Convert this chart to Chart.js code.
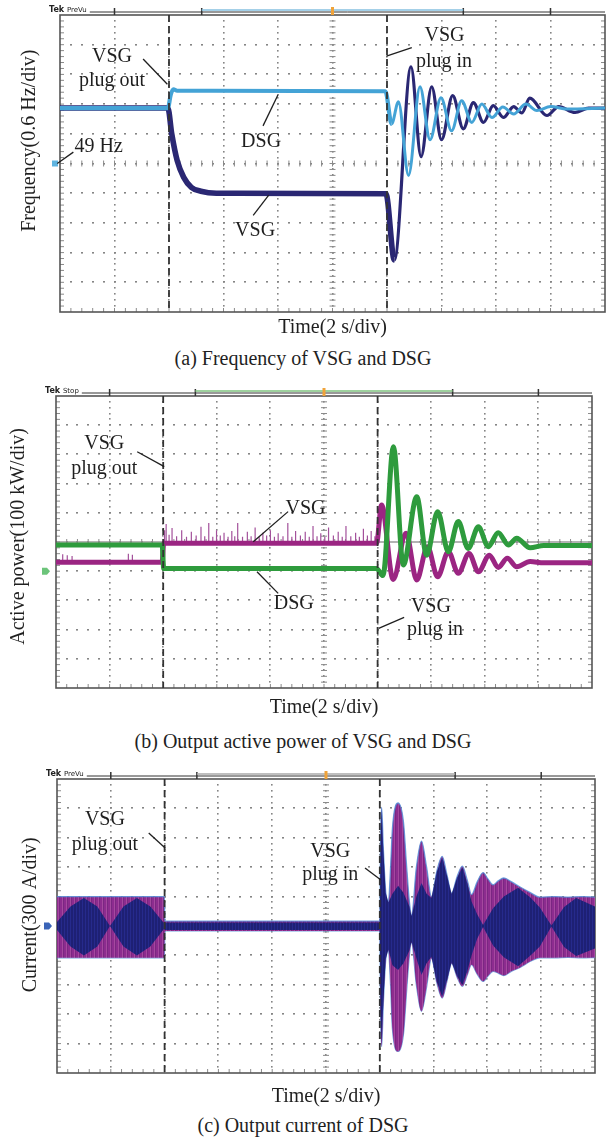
<!DOCTYPE html>
<html>
<head>
<meta charset="utf-8">
<script src="https://cdn.jsdelivr.net/npm/chart.js@4.4.0/dist/chart.umd.min.js"></script>
<style>
  html, body { margin: 0; padding: 0; background: #fff; }
  body { width: 606px; height: 1142px; position: relative; overflow: hidden;
         font-family: "Liberation Serif", "Times New Roman", serif; color: #1f1f1f; }
  .panel { position: absolute; left: 0; width: 606px; }
  .caption { position: absolute; left: 0; width: 606px; text-align: center; font-size: 20px; line-height: 26px; }
</style>
</head>
<body>
<div class="panel" style="top:0;height:345px"><canvas id="frequencyChart"></canvas></div>
<div class="caption" style="top:345px">(a) Frequency of VSG and DSG</div>
<div class="panel" style="top:380px;height:345px"><canvas id="powerChart"></canvas></div>
<div class="caption" style="top:728px">(b) Output active power of VSG and DSG</div>
<div class="panel" style="top:760px;height:352px"><canvas id="currentChart"></canvas></div>
<div class="caption" style="top:1112px">(c) Output current of DSG</div>

<script>
// time axis, s (2 s/div)
const timeMin = 0;
const timeMax = 20;
const plugOutTime = 4;
const plugInTime = 12;

// (a) frequency, Hz (0.6 Hz/div, 49 Hz at centre)
const freqDsgTime = [0, 3.96, 4.06, 4.16, 4.3, 11.94, 12.17, 12.42, 12.79, 13.21, 13.58, 13.98, 14.37, 14.74, 15.11, 15.48, 15.85, 16.25, 16.65, 17.1, 17.5, 18.0, 18.6, 20];
const freqDsg = [50.12, 50.12, 50.38, 50.5, 50.47, 50.46, 49.8, 50.25, 48.76, 50.55, 49.48, 50.33, 49.66, 50.27, 49.83, 50.2, 49.93, 50.14, 50.0, 50.2, 50.07, 50.15, 50.1, 50.12];
const freqVsgTime = [0, 3.96, 4.1, 4.3, 4.54, 4.82, 5.17, 5.74, 11.96, 12.27, 12.88, 13.25, 13.64, 14.0, 14.41, 14.8, 15.17, 15.54, 15.9, 16.27, 16.65, 16.95, 17.24, 17.87, 18.3, 18.9, 19.4, 20];
const freqVsg = [50.12, 50.12, 49.6, 49.06, 48.72, 48.52, 48.44, 48.4, 48.39, 47.05, 50.95, 49.14, 50.55, 49.48, 50.37, 49.7, 50.23, 49.83, 50.17, 49.93, 50.15, 50.02, 50.32, 49.97, 50.15, 50.03, 50.12, 50.12];

// (b) active power, kW (100 kW/div, ground one div below centre)
const powDsgTime = [0, 3.96, 4.02, 11.96, 12.2, 12.59, 12.96, 13.46, 13.83, 14.24, 14.64, 15.01, 15.38, 15.76, 16.13, 16.5, 16.88, 17.19, 17.69, 18.2, 20];
const powDsg = [90, 90, 9, 9, -15, 426, 21, 255, 55, 204, 67, 170, 78, 152, 84, 132, 90, 113, 80, 88, 88];
const powVsgTime = [0, 3.96, 4.02, 11.96, 12.15, 12.58, 13.06, 13.46, 13.86, 14.24, 14.64, 15.01, 15.41, 15.76, 16.17, 16.5, 16.84, 17.19, 17.69, 18.2, 20];
const powVsg = [31, 31, 96, 96, 227, -28, 130, -30, 84, -19, 67, -7, 61, -2, 55, 13, 44, 15, 33, 29, 29];
const preSpikeTime = [0.25, 0.42, 0.6, 2.7, 2.85];
const preSpikeTop = [58, 55, 52, 60, 56];
const postSpikeTime = [4.05, 4.11, 4.22, 4.33, 4.5, 4.69, 4.87, 5.05, 5.23, 5.41, 5.55, 5.7, 5.85, 5.99, 6.13, 6.27, 6.42, 6.56, 6.67, 6.78, 6.96, 7.14, 7.28, 7.43, 7.58, 7.72, 7.86, 8.0, 8.15, 8.29, 8.47, 8.65, 8.8, 8.94, 9.12, 9.3, 9.45, 9.59, 9.74, 9.88, 10.03, 10.17, 10.35, 10.53, 10.68, 10.82, 11.0, 11.18, 11.32, 11.47, 11.62, 11.76, 11.9];
const postSpikeTop = [140, 162, 125, 148, 120, 140, 118, 135, 122, 152, 120, 165, 118, 140, 122, 132, 118, 138, 120, 165, 118, 135, 120, 150, 118, 132, 122, 140, 118, 130, 120, 165, 118, 138, 122, 135, 118, 155, 120, 130, 118, 150, 122, 135, 118, 155, 120, 132, 118, 145, 122, 138, 120];

// (c) DSG current envelope, A (300 A/div)
const curTime = [0, 3.99, 4.01, 12.0, 12.03, 12.07, 12.13, 12.22, 12.32, 12.4, 12.47, 12.68, 12.88, 13.0, 13.1, 13.18, 13.36, 13.55, 13.74, 13.92, 14.12, 14.32, 14.5, 14.67, 14.87, 15.07, 15.25, 15.41, 15.62, 15.84, 16.02, 16.21, 16.4, 16.61, 16.9, 17.2, 17.6, 17.95, 18.5, 19.0, 19.5, 20];
const curUpper = [300, 300, 50, 50, 900, 1210, 800, 350, 250, 600, 1000, 1255, 1060, 600, 250, 110, 600, 865, 600, 300, 560, 710, 520, 335, 500, 610, 470, 320, 450, 545, 480, 420, 460, 490, 450, 400, 340, 295, 300, 295, 300, 295];
const curLower = [-325, -325, -50, -50, -900, -1230, -800, -350, -250, -600, -1050, -1280, -1100, -650, -300, -170, -600, -870, -620, -330, -580, -735, -560, -380, -520, -615, -500, -395, -490, -565, -510, -463, -480, -505, -460, -425, -360, -325, -325, -320, -325, -322];
const curNavyTime = [0, 0.5, 1.0, 1.5, 1.97, 2.47, 2.97, 3.47, 3.99, 4.01, 12.0, 12.03, 12.07, 12.13, 12.22, 12.32, 12.47, 12.68, 12.88, 13.1, 13.18, 13.36, 13.55, 13.74, 13.92, 14.12, 14.32, 14.5, 14.67, 14.87, 15.07, 15.25, 15.41, 15.62, 15.84, 16.21, 16.61, 17.14, 17.6, 17.95, 18.38, 18.85, 19.3, 20];
const curNavyUpper = [40, 200, 285, 200, 0, 200, 285, 200, 25, 35, 35, 880, 1190, 780, 340, 240, 330, 410, 340, 200, 100, 300, 440, 330, 285, 550, 700, 510, 325, 490, 600, 440, 250, 120, 10, 180, 300, 390, 290, 190, 5, 195, 285, 200];
const curNavyLower = [-40, -210, -300, -210, 0, -210, -300, -210, -25, -40, -40, -880, -1210, -780, -340, -240, -400, -450, -380, -250, -160, -330, -500, -380, -315, -570, -725, -550, -370, -510, -605, -465, -300, -130, -10, -200, -320, -410, -300, -210, -5, -215, -305, -230];

const serif = '"Liberation Serif", "Times New Roman", serif';
const pts = (xs, ys) => xs.map((x, i) => ({x: x, y: ys[i]}));

function spikeLine(times, tops, base) {
    const out = [];
    times.forEach((t, i) => { out.push({x: t, y: base}, {x: t, y: tops[i]}, {x: t, y: null}); });
    return out;
}

function stripes(colors) {
    const c = document.createElement('canvas');
    c.width = colors.length; c.height = 1;
    const g = c.getContext('2d');
    colors.forEach((col, i) => { g.fillStyle = col; g.fillRect(i, 0, 1, 1); });
    return g.createPattern(c, 'repeat');
}

// oscilloscope graticule, switching marks, labels
const scopeDecor = {
    id: 'scopeDecor',
    beforeDatasetsDraw(chart, args, opts) {
        const {ctx, chartArea: a, scales: {y}} = chart;
        const dx = (a.right - a.left) / 10, dy = (a.bottom - a.top) / 10;
        const cx = a.left + 5 * dx, cy = a.top + 5 * dy;
        ctx.save();
        // dotted graticule, 10 x 10 divisions
        ctx.fillStyle = '#858585';
        for (let i = 1; i < 10; i++) {
            const gx = Math.round(a.left + i * dx), gy = Math.round(a.top + i * dy);
            for (let k = 1; k < 50; k++) {
                ctx.fillRect(gx - 1, Math.round(a.top + k * dy / 5) - 1, 1.6, 1.6);
                ctx.fillRect(Math.round(a.left + k * dx / 5) - 1, gy - 1, 2, 1.6);
            }
        }
        if (opts.refValue !== undefined) {
            const ry = y.getPixelForValue(opts.refValue);
            ctx.strokeStyle = '#9a9a9a'; ctx.lineWidth = 1.5;
            ctx.beginPath(); ctx.moveTo(a.left, ry); ctx.lineTo(a.right, ry); ctx.stroke();
        }
        ctx.strokeStyle = '#8a8a8a'; ctx.lineWidth = 1;
        ctx.beginPath();
        for (let i = 1; i < 50; i++) {
            const tx = a.left + i * dx / 5, ty = a.top + i * dy / 5;
            ctx.moveTo(tx, cy - 3); ctx.lineTo(tx, cy + 3);
            ctx.moveTo(cx - 3, ty); ctx.lineTo(cx + 3, ty);
            ctx.moveTo(tx, a.bottom); ctx.lineTo(tx, a.bottom - 4);
            ctx.moveTo(a.left, ty); ctx.lineTo(a.left + 4, ty);
            ctx.moveTo(a.right, ty); ctx.lineTo(a.right - 4, ty);
        }
        ctx.stroke();
        ctx.strokeStyle = '#555'; ctx.lineWidth = 1.6;
        ctx.strokeRect(a.left, a.top, a.right - a.left, a.bottom - a.top);
        ctx.restore();
    },
    afterDatasetsDraw(chart, args, opts) {
        const {ctx, chartArea: a, scales: {x, y}} = chart;
        const dx = (a.right - a.left) / 10;
        ctx.save();
        // plug out / plug in
        ctx.strokeStyle = '#333'; ctx.lineWidth = 1.8; ctx.setLineDash([7, 4]);
        [plugOutTime, plugInTime].forEach(t => {
            const px = x.getPixelForValue(t);
            ctx.beginPath(); ctx.moveTo(px, a.top); ctx.lineTo(px, a.bottom); ctx.stroke();
        });
        ctx.setLineDash([]);
        // Tek header bar
        const hy = a.top - 3;
        ctx.fillStyle = '#222'; ctx.textAlign = 'left'; ctx.textBaseline = 'alphabetic';
        let hx = a.left - 11;
        ctx.font = 'bold 8px "DejaVu Sans"';
        ctx.fillText('Tek', hx, hy);
        hx += ctx.measureText('Tek ').width;
        ctx.font = '7px "DejaVu Sans"';
        ctx.fillText(opts.mode, hx, hy);
        hx += ctx.measureText(opts.mode).width + 3;
        ctx.strokeStyle = '#333'; ctx.lineWidth = 1;
        ctx.beginPath(); ctx.moveTo(hx, hy); ctx.lineTo(a.right, hy); ctx.stroke();
        ctx.lineWidth = 1.5;
        ctx.beginPath();
        [1, 2.6, 7.4, 9].forEach(d => { ctx.moveTo(a.left + d * dx, hy - 4); ctx.lineTo(a.left + d * dx, hy + 3); });
        ctx.stroke();
        ctx.strokeStyle = opts.segColor;
        ctx.beginPath(); ctx.moveTo(a.left + 2.6 * dx, hy - 2); ctx.lineTo(a.left + 7.4 * dx, hy - 2); ctx.stroke();
        ctx.fillStyle = '#f0a33a';
        ctx.fillRect(a.left + 5 * dx - 1.5, hy - 5, 3, 8);
        // channel ground marker
        const m = opts.marker, my = y.getPixelForValue(m.v), mx = a.left - m.gap;
        ctx.fillStyle = m.color;
        ctx.beginPath();
        if (m.shape === 'square') {
            ctx.rect(mx - 6, my - 3, 6, 6);
        } else {
            ctx.moveTo(mx - 8, my - 3.5); ctx.lineTo(mx - 3, my - 3.5); ctx.lineTo(mx, my);
            ctx.lineTo(mx - 3, my + 3.5); ctx.lineTo(mx - 8, my + 3.5); ctx.closePath();
        }
        ctx.fill();
        // labels and leader lines
        ctx.fillStyle = '#1f1f1f'; ctx.font = '20px ' + serif;
        ctx.textAlign = 'center'; ctx.textBaseline = 'middle';
        opts.labels.forEach(l => ctx.fillText(l.text, x.getPixelForValue(l.t), y.getPixelForValue(l.v)));
        ctx.strokeStyle = '#1f1f1f'; ctx.lineWidth = 1.3;
        opts.leaders.forEach(([t1, v1, t2, v2]) => {
            ctx.beginPath();
            ctx.moveTo(x.getPixelForValue(t1), y.getPixelForValue(v1));
            ctx.lineTo(x.getPixelForValue(t2), y.getPixelForValue(v2));
            ctx.stroke();
        });
        // y axis title
        ctx.translate(opts.yTitle.x, y.getPixelForValue(opts.yTitle.v));
        ctx.rotate(-Math.PI / 2);
        ctx.fillText(opts.yTitle.text, 0, 0);
        ctx.restore();
    }
};

function scopeScales(yMin, yMax, yWidth, xHeight, titlePad) {
    return {
        x: {
            type: 'linear', min: timeMin, max: timeMax,
            ticks: { display: false, count: 11 },
            grid: { display: false },
            border: { display: false },
            title: { display: true, text: 'Time(2 s/div)', color: '#1f1f1f',
                     font: { family: serif, size: 20 }, padding: { top: 0, bottom: titlePad } },
            afterFit: s => { s.height = xHeight; }
        },
        y: {
            type: 'linear', min: yMin, max: yMax,
            ticks: { display: false, count: 11 },
            grid: { display: false },
            border: { display: false },
            afterFit: s => { s.width = yWidth; }
        }
    };
}

const baseOptions = {
    responsive: true,
    maintainAspectRatio: false,
    animation: false,
    events: [],
    elements: { point: { radius: 0 } }
};

const ctxFrequency = document.getElementById('frequencyChart').getContext('2d');
const frequencyChart = new Chart(ctxFrequency, {
    type: 'line',
    data: {
        datasets: [{
            label: 'DSG',
            data: pts(freqDsgTime, freqDsg),
            borderColor: '#44a3d6',
            borderWidth: 4.2,
            cubicInterpolationMode: 'monotone',
            segment: { borderWidth: c => c.p0.parsed.x >= plugInTime ? 3 : undefined }
        }, {
            label: 'VSG',
            data: pts(freqVsgTime, freqVsg),
            borderColor: '#2a2773',
            borderWidth: 5.6,
            cubicInterpolationMode: 'monotone',
            segment: { borderWidth: c => c.p0.parsed.x >= plugInTime ? 3.2 : undefined }
        }]
    },
    plugins: [scopeDecor],
    options: Object.assign({}, baseOptions, {
        layout: { padding: { top: 15, right: 1, bottom: 0, left: 0 } },
        scales: scopeScales(46, 52, 60, 33, 5),
        plugins: {
            legend: { display: false },
            tooltip: { enabled: false },
            scopeDecor: {
                mode: 'PreVu', segColor: '#86c0e0',
                marker: { v: 49, color: '#5fb4e0', shape: 'square', gap: 2 },
                yTitle: { text: 'Frequency(0.6 Hz/div)', x: 30, v: 49.46 },
                labels: [
                    { text: 'VSG', t: 1.91, v: 51.15 }, { text: 'plug out', t: 1.91, v: 50.67 },
                    { text: 'VSG', t: 14.11, v: 51.58 }, { text: 'plug in', t: 14.09, v: 51.06 },
                    { text: 'DSG', t: 7.38, v: 49.43 }, { text: 'VSG', t: 7.16, v: 47.65 },
                    { text: '49 Hz', t: 1.42, v: 49.33 }
                ],
                leaders: [[3.05, 51.11, 3.94, 50.6], [11.98, 51.17, 12.91, 51.34], [8.01, 50.4, 7.45, 49.76],
                          [7.66, 48.36, 7.09, 47.95], [0.49, 49.23, -0.1, 49.0]]
            }
        }
    })
});

const ctxPower = document.getElementById('powerChart').getContext('2d');
const powerChart = new Chart(ctxPower, {
    type: 'line',
    data: {
        datasets: [{
            label: 'DSG',
            data: pts(powDsgTime, powDsg),
            borderColor: '#2e9b3d',
            borderWidth: 5,
            cubicInterpolationMode: 'monotone'
        }, {
            label: 'VSG',
            data: pts(powVsgTime, powVsg),
            borderColor: '#9b2582',
            borderWidth: 5,
            cubicInterpolationMode: 'monotone'
        }, {
            label: 'VSG spikes',
            data: spikeLine(preSpikeTime, preSpikeTop, powVsg[0]).concat(spikeLine(postSpikeTime, postSpikeTop, powVsg[2])),
            borderColor: '#a3519b',
            borderWidth: 1.2,
            spanGaps: false
        }]
    },
    plugins: [scopeDecor],
    options: Object.assign({}, baseOptions, {
        layout: { padding: { top: 16, right: 14, bottom: 0, left: 0 } },
        scales: scopeScales(-400, 600, 56, 37, 5),
        plugins: {
            legend: { display: false },
            tooltip: { enabled: false },
            scopeDecor: {
                mode: 'Stop', segColor: '#7ec27e', refValue: 100,
                marker: { v: 0, color: '#6cc47a', shape: 'arrow', gap: 6 },
                yTitle: { text: 'Active power(100 kW/div)', x: 19, v: 119 },
                labels: [
                    { text: 'VSG', t: 1.8, v: 438 }, { text: 'plug out', t: 1.8, v: 352 },
                    { text: 'VSG', t: 9.31, v: 215 }, { text: 'DSG', t: 8.87, v: -112 },
                    { text: 'VSG', t: 13.99, v: -122 }, { text: 'plug in', t: 14.14, v: -201 }
                ],
                leaders: [[3.03, 409, 4.04, 358], [8.66, 204, 7.36, 101], [8.29, -76, 7.5, -2], [12.99, -158, 12.04, -196]]
            }
        }
    })
});

const navyFill = stripes(['#1e2074', '#262a8c', '#1e2074']);
const magentaFill = stripes(['#8d2c8f', '#8d2c8f', '#a5489f', '#7a2782']);

const ctxCurrent = document.getElementById('currentChart').getContext('2d');
const currentChart = new Chart(ctxCurrent, {
    type: 'line',
    data: {
        datasets: [{
            label: 'navy upper',
            data: pts(curNavyTime, curNavyUpper),
            borderWidth: 0, borderColor: 'rgba(0,0,0,0)',
            backgroundColor: navyFill, fill: '+1', tension: 0
        }, {
            label: 'navy lower',
            data: pts(curNavyTime, curNavyLower),
            borderWidth: 0, borderColor: 'rgba(0,0,0,0)', fill: false, tension: 0
        }, {
            label: 'upper',
            data: pts(curTime, curUpper),
            borderWidth: 1.3, borderColor: 'rgba(80,140,215,0.8)',
            backgroundColor: magentaFill, fill: '+1', cubicInterpolationMode: 'monotone'
        }, {
            label: 'lower',
            data: pts(curTime, curLower),
            borderWidth: 1.3, borderColor: 'rgba(80,140,215,0.8)',
            fill: false, cubicInterpolationMode: 'monotone'
        }]
    },
    plugins: [scopeDecor],
    options: Object.assign({}, baseOptions, {
        layout: { padding: { top: 19, right: 11, bottom: 0, left: 0 } },
        scales: scopeScales(-1500, 1500, 57, 39, 3),
        plugins: {
            legend: { display: false },
            tooltip: { enabled: false },
            filler: { propagate: false },
            scopeDecor: {
                mode: 'PreVu', segColor: '#a8a8a8',
                marker: { v: 0, color: '#3a64b8', shape: 'arrow', gap: 5 },
                yTitle: { text: 'Current(300 A/div)', x: 31, v: 115 },
                labels: [
                    { text: 'VSG', t: 1.78, v: 1084 }, { text: 'plug out', t: 1.78, v: 829 },
                    { text: 'VSG', t: 10.16, v: 761 }, { text: 'plug in', t: 10.16, v: 523 }
                ],
                leaders: [[3.41, 949, 4.02, 796], [11.45, 592, 12.03, 472]]
            }
        }
    })
});
</script>
</body>
</html>
